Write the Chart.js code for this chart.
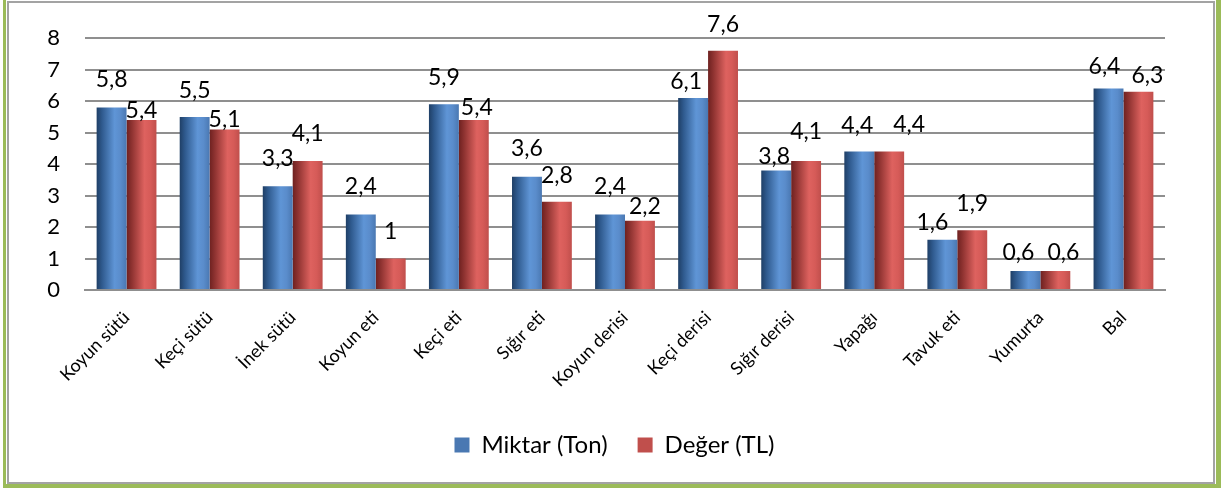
<!DOCTYPE html>
<html lang="tr">
<head>
<meta charset="utf-8">
<title>Miktar ve Değer</title>
<script src="https://cdn.jsdelivr.net/npm/chart.js@4/dist/chart.umd.min.js"></script>
<style>
  html, body { margin: 0; padding: 0; background: #ffffff; }
  #wrap { width: 1224px; height: 488px; }
</style>
</head>
<body>
<div id="wrap"><canvas id="c" width="1224" height="488"></canvas></div>
<script>
// Ürün kategorileri
const categories = ['Koyun sütü', 'Keçi sütü', 'İnek sütü', 'Koyun eti', 'Keçi eti', 'Sığır eti',
  'Koyun derisi', 'Keçi derisi', 'Sığır derisi', 'Yapağı', 'Tavuk eti', 'Yumurta', 'Bal'];

// Seriler
const miktarTon = [5.8, 5.5, 3.3, 2.4, 5.9, 3.6, 2.4, 6.1, 3.8, 4.4, 1.6, 0.6, 6.4];
const degerTL   = [5.4, 5.1, 4.1, 1.0, 5.4, 2.8, 2.2, 7.6, 4.1, 4.4, 1.9, 0.6, 6.3];

// Y ekseni
const yTicks = [0, 1, 2, 3, 4, 5, 6, 7, 8];

// Etiket yerleşimi: çubuk üstünden yukarı (px) ve yatay kaydırma (px)
const liftMiktar  = [20, 19, 20, 20, 19, 21, 20, 9, 6, 19, 10, 11, 15];
const liftDeger   = [2, 2, 20, 20, 5, 19, 7, 19, 22, 20, 19, 11, 9];
const nudgeMiktar = [0, 0, 0, 0, 0, 0, 0, -7, -2, -2, -10, -7, -4];
const nudgeDeger  = [0, 0, 0, 0, 3, 0, 5, 0, 0, 20, 0, 8, 9];

const FONT = 'Lato, "Open Sans", sans-serif';
const CAT_PCT = 0.72;

// Silindir görünümü için yatay geçişli dolgu
function barFill(stops, solid, seriesIndex) {
  return (ctx) => {
    if (ctx.type !== 'data') return solid;
    const xs = ctx.chart.scales && ctx.chart.scales.x;
    if (!xs || !isFinite(xs.width) || xs.width <= 0) return solid;
    const center = xs.getPixelForValue(ctx.dataIndex);
    const w = xs.width / categories.length * CAT_PCT / 2;
    const left = seriesIndex === 0 ? center - w : center;
    const g = ctx.chart.ctx.createLinearGradient(left, 0, left + w, 0);
    stops.forEach(([p, c]) => g.addColorStop(p, c));
    return g;
  };
}

const blueStops = [[0, '#1f3f66'], [0.18, '#2f5a8e'], [0.6, '#5f95d6'], [0.8, '#5a8ccb'], [1, '#4a78b2']];
const redStops  = [[0, '#6e2120'], [0.18, '#8f3331'], [0.6, '#de625f'], [0.8, '#d65b58'], [1, '#c04f4c']];

// Çerçeve
const framePlugin = {
  id: 'frame',
  beforeDraw(chart) {
    const c = chart.ctx;
    c.save();
    c.fillStyle = '#ffffff';
    c.fillRect(0, 0, chart.width, chart.height);
    c.fillStyle = '#9bbb59';
    c.fillRect(3, 0, 1218, 488);
    c.fillStyle = '#ffffff';
    c.fillRect(6, 0, 1210, 484);
    c.strokeStyle = '#a3a3a3';
    c.lineWidth = 2;
    c.strokeRect(8, 2, 1206, 481);
    c.restore();
  }
};

// Göstergeyi çizim alanının ortasına doğru kaydırır
const legendShift = {
  id: 'legendShift',
  afterLayout(chart) {
    const lg = chart.legend;
    if (lg) { lg.left += 22; lg.right += 22; }
  }
};

// Değer etiketleri
const valueLabels = {
  id: 'valueLabels',
  afterDatasetsDraw(chart) {
    const c = chart.ctx;
    const lifts = [liftMiktar, liftDeger];
    const nudges = [nudgeMiktar, nudgeDeger];
    c.save();
    c.font = '23px ' + FONT;
    c.fillStyle = '#000000';
    c.textAlign = 'center';
    c.textBaseline = 'alphabetic';
    chart.data.datasets.forEach((ds, di) => {
      const meta = chart.getDatasetMeta(di);
      meta.data.forEach((bar, i) => {
        const txt = String(ds.data[i]).replace('.', ',');
        c.fillText(txt, bar.x + nudges[di][i], bar.y - lifts[di][i]);
      });
    });
    c.restore();
  }
};

new Chart(document.getElementById('c'), {
  type: 'bar',
  data: {
    labels: categories,
    datasets: [
      {
        label: 'Miktar (Ton)',
        data: miktarTon,
        backgroundColor: barFill(blueStops, '#4f81bd', 0),
        borderWidth: 0,
        categoryPercentage: CAT_PCT,
        barPercentage: 1
      },
      {
        label: 'Değer (TL)',
        data: degerTL,
        backgroundColor: barFill(redStops, '#c0504d', 1),
        borderWidth: 0,
        categoryPercentage: CAT_PCT,
        barPercentage: 1
      }
    ]
  },
  options: {
    responsive: false,
    animation: false,
    devicePixelRatio: 1,
    layout: { padding: { left: 20, right: 59, top: 36, bottom: 21 } },
    plugins: {
      legend: {
        position: 'bottom',
        labels: {
          font: { family: FONT, size: 24 },
          color: '#000000',
          boxWidth: 15,
          boxHeight: 15,
          padding: 30
        }
      },
      tooltip: { enabled: false }
    },
    scales: {
      x: {
        grid: { display: false },
        border: { display: true, color: '#8f8f8f', width: 2 },
        ticks: {
          font: { family: FONT, size: 18 },
          color: '#000000',
          minRotation: 45,
          maxRotation: 45,
          padding: 9
        },
        afterFit(scale) { scale.height = 113; }
      },
      y: {
        min: 0,
        max: 8,
        afterBuildTicks(scale) { scale.ticks = yTicks.map(v => ({ value: v })); },
        grid: { color: '#8f8f8f', lineWidth: 2, drawTicks: false },
        border: { display: false },
        ticks: {
          font: { family: FONT, size: 22 },
          color: '#000000',
          padding: 25
        },
        afterFit(scale) { scale.width = 65; }
      }
    }
  },
  plugins: [framePlugin, legendShift, valueLabels]
});
</script>
</body>
</html>
